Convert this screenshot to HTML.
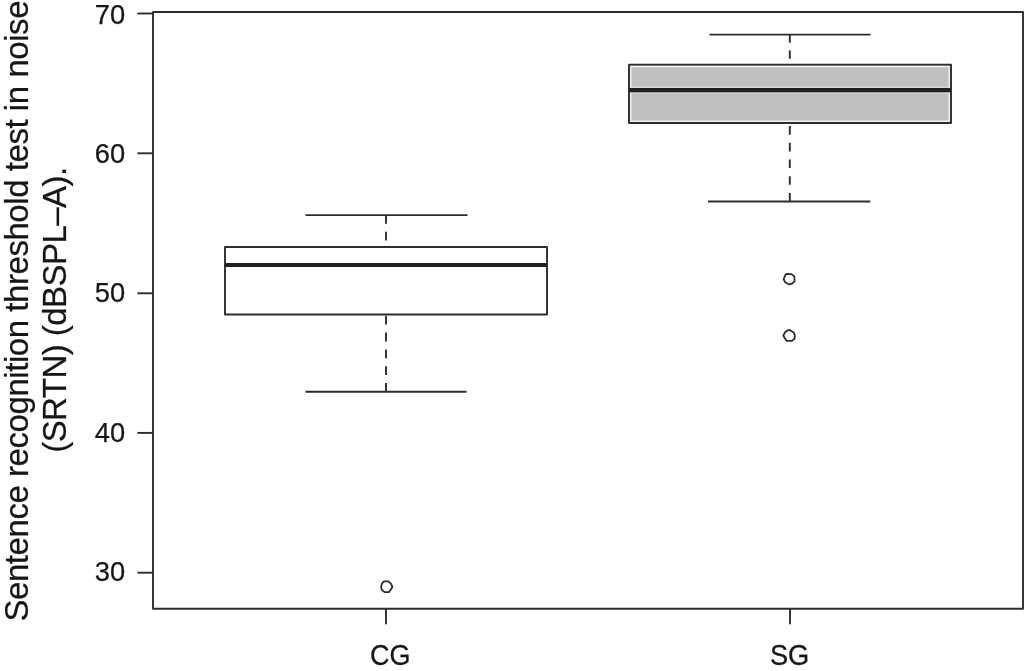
<!DOCTYPE html>
<html lang="en">
<head>
<meta charset="utf-8">
<title>Sentence recognition threshold test in noise (SRTN) – CG vs SG</title>
<style>
  html, body { margin: 0; padding: 0; background: #ffffff; }
  body { width: 1024px; height: 671px; overflow: hidden; }
  svg { display: block; }
  text { font-family: "Liberation Sans", "DejaVu Sans", sans-serif; fill: #161616; stroke: #161616; stroke-width: 0.25px; stroke-linejoin: round; }
  .ln { stroke: #2d2d2d; stroke-width: 1.9; fill: none; stroke-linejoin: round; }
  .mk { stroke-width: 1.8; stroke-linejoin: round; }
  .tick { font-size: 27.3px; }
  .xt { font-size: 28px; }
  .ylab { font-size: 33px; }
</style>
</head>
<body>
<svg width="1024" height="671" viewBox="0 0 1024 671">
  <rect x="0" y="0" width="1024" height="671" fill="#ffffff"/>

  <!-- plot frame -->
  <rect class="ln" x="153" y="12" width="870" height="596.8"/>

  <!-- y axis ticks -->
  <g class="ln">
    <line x1="137.4" y1="13.5" x2="153" y2="13.5"/>
    <line x1="137.4" y1="153.3" x2="153" y2="153.3"/>
    <line x1="137.4" y1="293.3" x2="153" y2="293.3"/>
    <line x1="137.4" y1="432.9" x2="153" y2="432.9"/>
    <line x1="137.4" y1="572.7" x2="153" y2="572.7"/>
  </g>
  <g class="tick" text-anchor="end">
    <text x="125.2" y="23.5">70</text>
    <text x="125.2" y="163.2">60</text>
    <text x="125.2" y="302.4">50</text>
    <text x="125.2" y="441.9">40</text>
    <text x="125.2" y="581.4">30</text>
  </g>

  <!-- x axis ticks -->
  <g class="ln">
    <line x1="386" y1="608.8" x2="386" y2="624.2"/>
    <line x1="790" y1="608.8" x2="790" y2="624.2"/>
  </g>
  <g class="xt" text-anchor="middle">
    <text transform="translate(390.3 665.3) scale(0.965 1.035)">CG</text>
    <text transform="translate(789.6 665.3) scale(0.975 1.035)">SG</text>
  </g>

  <!-- y axis label (two lines, rotated) -->
  <g class="ylab" text-anchor="middle">
    <text transform="translate(28 311) rotate(-90)" textLength="621" lengthAdjust="spacing">Sentence recognition threshold test in noise</text>
    <text transform="translate(65.6 309.8) rotate(-90)" textLength="286" lengthAdjust="spacing">(SRTN) (dBSPL–A).</text>
  </g>

  <!-- CG box -->
  <g class="ln">
    <line x1="386" y1="215.1" x2="386" y2="247" stroke-dasharray="8.6 8.1"/>
    <line x1="386" y1="391.8" x2="386" y2="314.5" stroke-dasharray="8.8 8"/>
    <line x1="305.5" y1="215.1" x2="467.5" y2="215.1"/>
    <line x1="305.5" y1="391.8" x2="466.5" y2="391.8"/>
    <rect x="225" y="247" width="322" height="67.5" fill="#ffffff"/>
    <line x1="225" y1="265" x2="547" y2="265" stroke-width="4.2" stroke="#202020"/>
  </g>
  <polygon class="ln mk" points="384.36,581.30 388.13,581.30 390.94,583.65 392.35,586.94 390.47,589.99 389.06,592.10 384.60,592.10 381.78,589.75 381.08,586.70 382.26,582.95"/>

  <!-- SG box -->
  <g class="ln">
    <line x1="789.8" y1="34.6" x2="789.8" y2="64.8" stroke-dasharray="8.2 7.8"/>
    <line x1="789.8" y1="201.5" x2="789.8" y2="123" stroke-dasharray="8.6 8.1"/>
    <line x1="709.5" y1="34.6" x2="870.5" y2="34.6"/>
    <line x1="708" y1="201.5" x2="870.3" y2="201.5"/>
    <rect x="629" y="64.8" width="322" height="58.2" fill="#c0c0c0"/>
    <rect x="630.8" y="66.5" width="318.4" height="54.8" stroke="#f1f1f1" stroke-width="1.4"/>
    <line x1="631.5" y1="87.2" x2="948.5" y2="87.2" stroke="#d6d6d6" stroke-width="1.4"/>
    <line x1="631.5" y1="93" x2="948.5" y2="93" stroke="#dcdcdc" stroke-width="1.2"/>
    <line x1="629" y1="90.1" x2="951" y2="90.1" stroke-width="4.2" stroke="#202020"/>
  </g>
  <polygon class="ln mk" points="786.20,273.86 791.38,274.09 794.42,276.44 794.52,281.38 791.84,283.72 789.02,284.42 785.26,282.31 783.62,279.26 785.03,275.73"/>
  <polygon class="ln mk" points="789.69,329.88 793.93,332.70 794.85,335.75 794.38,339.04 791.56,340.92 786.64,340.92 784.77,338.34 783.35,335.52 785.23,331.99 788.28,330.12"/>
</svg>
</body>
</html>
